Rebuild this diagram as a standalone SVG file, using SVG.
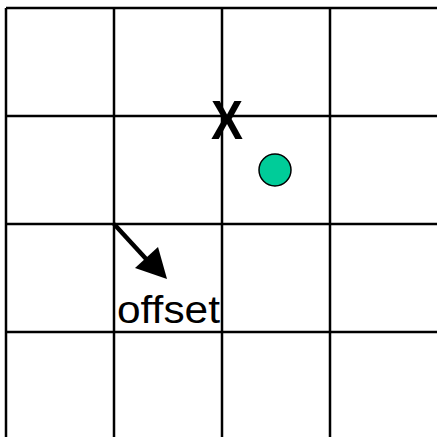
<svg xmlns="http://www.w3.org/2000/svg" width="437" height="437" viewBox="0 0 437 437">
<style>
.grid line{stroke:#000;stroke-width:2.5}
.lbl{font-family:"Liberation Sans",Arial,sans-serif;fill:#000}
</style>
<rect width="437" height="437" fill="#fff"/>
<g id="grid" class="grid">
<line x1="6" y1="8" x2="437" y2="8"/>
<line x1="6" y1="116" x2="437" y2="116"/>
<line x1="6" y1="224" x2="437" y2="224"/>
<line x1="6" y1="332" x2="437" y2="332"/>
<line x1="6" y1="8" x2="6" y2="437"/>
<line x1="114" y1="8" x2="114" y2="437"/>
<line x1="222" y1="8" x2="222" y2="437"/>
<line x1="330" y1="8" x2="330" y2="437"/>
</g>
<g id="marker-x"><text class="lbl" x="227" y="139" font-size="55" font-weight="bold" text-anchor="middle" textLength="32" lengthAdjust="spacingAndGlyphs">X</text></g>
<g id="point"><circle cx="275" cy="170" r="16" fill="#00CC99" stroke="#000" stroke-width="1.5"/></g>
<g id="connectors">
<line x1="114" y1="224" x2="148" y2="261" stroke="#000" stroke-width="4.5"/>
<polygon points="135,268 158,247 167,279" fill="#000"/>
</g>
<g id="offset-label"><text class="lbl" x="117" y="323" font-size="39" textLength="103" lengthAdjust="spacingAndGlyphs">offset</text></g>
</svg>
